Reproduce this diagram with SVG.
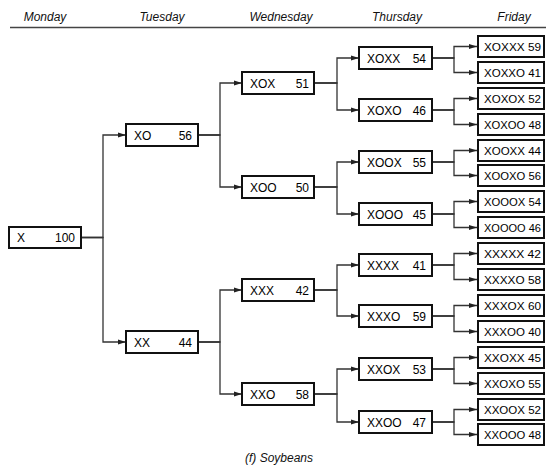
<svg xmlns="http://www.w3.org/2000/svg" width="546" height="465" viewBox="0 0 546 465">
<style>
.bg{fill:#fff}
.box rect{fill:#fff;stroke:#111;stroke-width:2}
.box text{font-family:"Liberation Sans",Arial,sans-serif;font-size:12px;fill:#000}
.box text.fri{font-size:11.8px}
.num{text-anchor:end}
.day{font-family:"Liberation Sans",Arial,sans-serif;font-size:12px;font-style:italic;fill:#111;text-anchor:middle}
#connectors path{fill:none;stroke:#333;stroke-width:1.3}
</style>
<defs>
<marker id="ah" viewBox="0 0 8 6" refX="8" refY="3" markerWidth="8" markerHeight="6" markerUnits="userSpaceOnUse" orient="auto">
<path d="M0,0.5 L8,3 L0,5.5 Z" fill="#222"/>
</marker>
</defs>
<rect class="bg" x="0" y="0" width="546" height="465"/>
<g id="header">
<text class="day" x="45" y="21">Monday</text>
<text class="day" x="162" y="21">Tuesday</text>
<text class="day" x="281" y="21">Wednesday</text>
<text class="day" x="397" y="21">Thursday</text>
<text class="day" x="514" y="21">Friday</text>
<line x1="10" y1="27.5" x2="546" y2="27.5" stroke="#444" stroke-width="1.5"/>
</g>
<g id="connectors">
<path marker-end="url(#ah)" d="M81,237.5 H103 V135 H126"/>
<path marker-end="url(#ah)" d="M81,237.5 H103 V342 H126"/>
<path marker-end="url(#ah)" d="M198,135 H220 V83 H242"/>
<path marker-end="url(#ah)" d="M198,135 H220 V187 H242"/>
<path marker-end="url(#ah)" d="M198,342 H220 V290 H242"/>
<path marker-end="url(#ah)" d="M198,342 H220 V394 H242"/>
<path marker-end="url(#ah)" d="M314,83 H337 V58 H359"/>
<path marker-end="url(#ah)" d="M314,83 H337 V110 H359"/>
<path marker-end="url(#ah)" d="M314,187 H337 V162 H359"/>
<path marker-end="url(#ah)" d="M314,187 H337 V214 H359"/>
<path marker-end="url(#ah)" d="M314,290 H337 V265 H359"/>
<path marker-end="url(#ah)" d="M314,290 H337 V316 H359"/>
<path marker-end="url(#ah)" d="M314,394 H337 V369 H359"/>
<path marker-end="url(#ah)" d="M314,394 H337 V422 H359"/>
<path marker-end="url(#ah)" d="M432,58 H454 V46.5 H477"/>
<path marker-end="url(#ah)" d="M432,58 H454 V72.5 H477"/>
<path marker-end="url(#ah)" d="M432,110 H454 V98.5 H477"/>
<path marker-end="url(#ah)" d="M432,110 H454 V124.5 H477"/>
<path marker-end="url(#ah)" d="M432,162 H454 V150.5 H477"/>
<path marker-end="url(#ah)" d="M432,162 H454 V175.5 H477"/>
<path marker-end="url(#ah)" d="M432,214 H454 V201.5 H477"/>
<path marker-end="url(#ah)" d="M432,214 H454 V227.5 H477"/>
<path marker-end="url(#ah)" d="M432,265 H454 V253.5 H477"/>
<path marker-end="url(#ah)" d="M432,265 H454 V279.5 H477"/>
<path marker-end="url(#ah)" d="M432,316 H454 V305.5 H477"/>
<path marker-end="url(#ah)" d="M432,316 H454 V331.5 H477"/>
<path marker-end="url(#ah)" d="M432,369 H454 V357.5 H477"/>
<path marker-end="url(#ah)" d="M432,369 H454 V383.5 H477"/>
<path marker-end="url(#ah)" d="M432,422 H454 V409.5 H477"/>
<path marker-end="url(#ah)" d="M432,422 H454 V434.5 H477"/>
</g>
<g id="n-X" class="box"><rect x="9" y="227" width="72" height="21"/><text x="17" y="242">X</text><text class="num" x="75" y="242">100</text></g>
<g id="n-XO" class="box"><rect x="126" y="124" width="72" height="22"/><text x="134" y="139.5">XO</text><text class="num" x="192" y="139.5">56</text></g>
<g id="n-XX" class="box"><rect x="126" y="331" width="72" height="22"/><text x="134" y="346.5">XX</text><text class="num" x="192" y="346.5">44</text></g>
<g id="n-XOX" class="box"><rect x="242" y="72" width="72" height="22"/><text x="250" y="87.5">XOX</text><text class="num" x="309" y="87.5">51</text></g>
<g id="n-XOO" class="box"><rect x="242" y="176" width="72" height="22"/><text x="250" y="191.5">XOO</text><text class="num" x="309" y="191.5">50</text></g>
<g id="n-XXX" class="box"><rect x="242" y="279" width="72" height="22"/><text x="250" y="294.5">XXX</text><text class="num" x="309" y="294.5">42</text></g>
<g id="n-XXO" class="box"><rect x="242" y="383" width="72" height="22"/><text x="250" y="398.5">XXO</text><text class="num" x="309" y="398.5">58</text></g>
<g id="n-XOXX" class="box"><rect x="359" y="47" width="73" height="22"/><text x="367" y="62.5">XOXX</text><text class="num" x="426" y="62.5">54</text></g>
<g id="n-XOXO" class="box"><rect x="359" y="99" width="73" height="22"/><text x="367" y="114.5">XOXO</text><text class="num" x="426" y="114.5">46</text></g>
<g id="n-XOOX" class="box"><rect x="359" y="151" width="73" height="22"/><text x="367" y="166.5">XOOX</text><text class="num" x="426" y="166.5">55</text></g>
<g id="n-XOOO" class="box"><rect x="359" y="203" width="73" height="22"/><text x="367" y="218.5">XOOO</text><text class="num" x="426" y="218.5">45</text></g>
<g id="n-XXXX" class="box"><rect x="359" y="254" width="73" height="22"/><text x="367" y="269.5">XXXX</text><text class="num" x="426" y="269.5">41</text></g>
<g id="n-XXXO" class="box"><rect x="359" y="305" width="73" height="22"/><text x="367" y="320.5">XXXO</text><text class="num" x="426" y="320.5">59</text></g>
<g id="n-XXOX" class="box"><rect x="359" y="358" width="73" height="22"/><text x="367" y="373.5">XXOX</text><text class="num" x="426" y="373.5">53</text></g>
<g id="n-XXOO" class="box"><rect x="359" y="411" width="73" height="22"/><text x="367" y="426.5">XXOO</text><text class="num" x="426" y="426.5">47</text></g>
<g id="n-XOXXX" class="box"><rect x="478" y="36" width="66" height="21"/><text class="fri" x="484" y="51" textLength="57" lengthAdjust="spacingAndGlyphs">XOXXX 59</text></g>
<g id="n-XOXXO" class="box"><rect x="478" y="62" width="66" height="21"/><text class="fri" x="484" y="77" textLength="57" lengthAdjust="spacingAndGlyphs">XOXXO 41</text></g>
<g id="n-XOXOX" class="box"><rect x="478" y="88" width="66" height="21"/><text class="fri" x="484" y="103" textLength="57" lengthAdjust="spacingAndGlyphs">XOXOX 52</text></g>
<g id="n-XOXOO" class="box"><rect x="478" y="114" width="66" height="21"/><text class="fri" x="484" y="129" textLength="57" lengthAdjust="spacingAndGlyphs">XOXOO 48</text></g>
<g id="n-XOOXX" class="box"><rect x="478" y="140" width="66" height="21"/><text class="fri" x="484" y="155" textLength="57" lengthAdjust="spacingAndGlyphs">XOOXX 44</text></g>
<g id="n-XOOXO" class="box"><rect x="478" y="165" width="66" height="21"/><text class="fri" x="484" y="180" textLength="57" lengthAdjust="spacingAndGlyphs">XOOXO 56</text></g>
<g id="n-XOOOX" class="box"><rect x="478" y="191" width="66" height="21"/><text class="fri" x="484" y="206" textLength="57" lengthAdjust="spacingAndGlyphs">XOOOX 54</text></g>
<g id="n-XOOOO" class="box"><rect x="478" y="217" width="66" height="21"/><text class="fri" x="484" y="232" textLength="57" lengthAdjust="spacingAndGlyphs">XOOOO 46</text></g>
<g id="n-XXXXX" class="box"><rect x="478" y="243" width="66" height="21"/><text class="fri" x="484" y="258" textLength="57" lengthAdjust="spacingAndGlyphs">XXXXX 42</text></g>
<g id="n-XXXXO" class="box"><rect x="478" y="269" width="66" height="21"/><text class="fri" x="484" y="284" textLength="57" lengthAdjust="spacingAndGlyphs">XXXXO 58</text></g>
<g id="n-XXXOX" class="box"><rect x="478" y="295" width="66" height="21"/><text class="fri" x="484" y="310" textLength="57" lengthAdjust="spacingAndGlyphs">XXXOX 60</text></g>
<g id="n-XXXOO" class="box"><rect x="478" y="321" width="66" height="21"/><text class="fri" x="484" y="336" textLength="57" lengthAdjust="spacingAndGlyphs">XXXOO 40</text></g>
<g id="n-XXOXX" class="box"><rect x="478" y="347" width="66" height="21"/><text class="fri" x="484" y="362" textLength="57" lengthAdjust="spacingAndGlyphs">XXOXX 45</text></g>
<g id="n-XXOXO" class="box"><rect x="478" y="373" width="66" height="21"/><text class="fri" x="484" y="388" textLength="57" lengthAdjust="spacingAndGlyphs">XXOXO 55</text></g>
<g id="n-XXOOX" class="box"><rect x="478" y="399" width="66" height="21"/><text class="fri" x="484" y="414" textLength="57" lengthAdjust="spacingAndGlyphs">XXOOX 52</text></g>
<g id="n-XXOOO" class="box"><rect x="478" y="424" width="66" height="21"/><text class="fri" x="484" y="439" textLength="57" lengthAdjust="spacingAndGlyphs">XXOOO 48</text></g>
<text class="day" x="279" y="462">(f) Soybeans</text>
</svg>
